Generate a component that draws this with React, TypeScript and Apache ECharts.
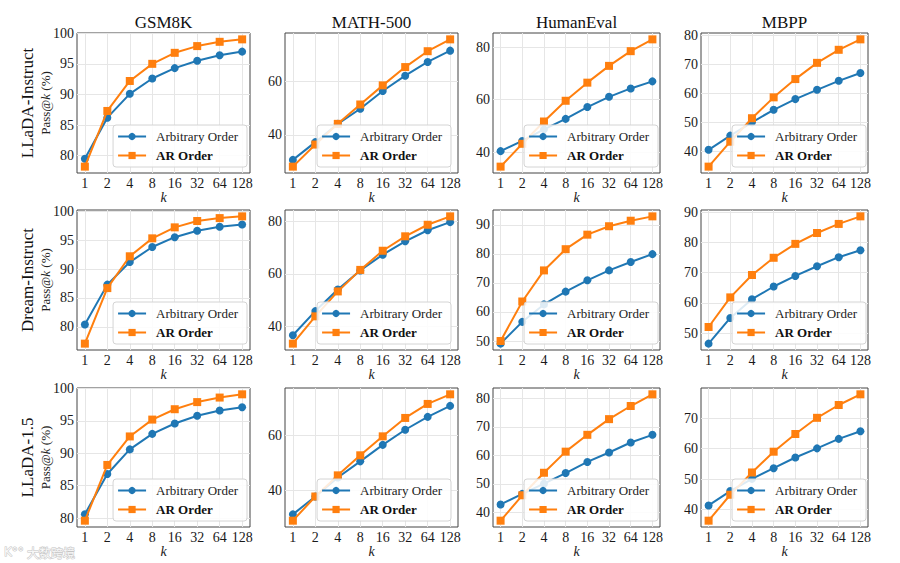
import React, { useEffect, useRef } from "react";
import * as echarts from "echarts";

const K_LABELS = ["1", "2", "4", "8", "16", "32", "64", "128"];
const BENCHMARKS = ["GSM8K", "MATH-500", "HumanEval", "MBPP"];
const MODELS = ["LLaDA-Instruct", "Dream-Instruct", "LLaDA-1.5"];
const SERIES_NAMES = ["Arbitrary Order", "AR Order"];

// LLaDA-Instruct
const lladaGsm8kArb = [79.5, 86.2, 90.1, 92.6, 94.3, 95.5, 96.4, 97.0];
const lladaGsm8kAr = [78.2, 87.3, 92.2, 95.0, 96.8, 97.9, 98.6, 99.0];
const lladaMathArb = [30.7, 37.3, 44.1, 49.7, 56.3, 62.0, 67.1, 71.3];
const lladaMathAr = [28.2, 36.4, 44.1, 51.3, 58.4, 65.2, 71.1, 75.5];
const lladaHeArb = [40.4, 44.3, 48.7, 52.7, 57.2, 61.1, 64.3, 67.0];
const lladaHeAr = [34.5, 43.2, 51.7, 59.6, 66.5, 72.9, 78.5, 83.0];
const lladaMbppArb = [40.5, 45.4, 50.0, 54.3, 58.0, 61.2, 64.3, 67.0];
const lladaMbppAr = [34.7, 43.3, 51.4, 58.6, 64.9, 70.5, 75.0, 78.6];
// Dream-Instruct
const dreamGsm8kArb = [80.4, 87.3, 91.2, 93.8, 95.5, 96.6, 97.3, 97.7];
const dreamGsm8kAr = [77.1, 86.7, 92.2, 95.3, 97.2, 98.3, 98.8, 99.1];
const dreamMathArb = [36.6, 45.8, 54.0, 61.3, 67.3, 72.4, 76.6, 79.7];
const dreamMathAr = [33.4, 43.8, 53.3, 61.5, 68.8, 74.3, 78.7, 81.9];
const dreamHeArb = [49.1, 56.6, 62.6, 67.0, 70.9, 74.3, 77.2, 79.9];
const dreamHeAr = [50.0, 63.6, 74.3, 81.6, 86.6, 89.5, 91.4, 92.9];
const dreamMbppArb = [46.5, 55.0, 61.2, 65.4, 68.9, 72.1, 75.1, 77.4];
const dreamMbppAr = [52.0, 61.8, 69.2, 74.9, 79.5, 83.1, 86.1, 88.6];
// LLaDA-1.5
const l15Gsm8kArb = [80.6, 86.8, 90.6, 93.0, 94.6, 95.8, 96.6, 97.1];
const l15Gsm8kAr = [79.6, 88.2, 92.6, 95.2, 96.8, 97.9, 98.6, 99.1];
const l15MathArb = [31.2, 37.7, 44.6, 50.5, 56.5, 62.0, 66.7, 70.7];
const l15MathAr = [28.9, 37.7, 45.4, 52.7, 59.6, 66.3, 71.4, 74.9];
const l15HeArb = [42.8, 46.5, 50.1, 53.8, 57.7, 61.0, 64.5, 67.2];
const l15HeAr = [37.1, 46.0, 53.9, 61.3, 67.2, 72.7, 77.3, 81.4];
const l15MbppArb = [41.4, 46.1, 50.1, 53.6, 57.1, 60.1, 63.2, 65.7];
const l15MbppAr = [36.4, 44.9, 52.2, 59.0, 64.8, 70.1, 74.3, 77.8];

const Y_TICK_STEPS = [
  [5, 20, 20, 10],
  [5, 20, 10, 10],
  [5, 20, 10, 10],
];

const PANELS = [
  [
    [lladaGsm8kArb, lladaGsm8kAr],
    [lladaMathArb, lladaMathAr],
    [lladaHeArb, lladaHeAr],
    [lladaMbppArb, lladaMbppAr],
  ],
  [
    [dreamGsm8kArb, dreamGsm8kAr],
    [dreamMathArb, dreamMathAr],
    [dreamHeArb, dreamHeAr],
    [dreamMbppArb, dreamMbppAr],
  ],
  [
    [l15Gsm8kArb, l15Gsm8kAr],
    [l15MathArb, l15MathAr],
    [l15HeArb, l15HeAr],
    [l15MbppArb, l15MbppAr],
  ],
];

// layout
const COL_LEFT = [77, 285, 493, 701];
const COL_RIGHT = [250, 458, 660, 868];
const ROW_TOP = [33, 210, 388];
const ROW_BOTTOM = [173, 350, 527];
const LEGEND_RIGHT_INSET = [3, 7, 2, 2];
const W = 900;
const H = 563;
const FONT = "Liberation Serif";
const BLUE = "#1f77b4";
const ORANGE = "#ff7f0e";

function ticksFor(min: number, max: number, step: number) {
  const out: number[] = [];
  for (let v = Math.ceil(min / step - 1e-9) * step; v <= max + 1e-9; v += step) out.push(v);
  return out;
}

function buildOption() {
  const grid: any[] = [];
  const xAxis: any[] = [];
  const yAxis: any[] = [];
  const series: any[] = [];
  const legend: any[] = [];
  const graphic: any[] = [];
  const xIdx = K_LABELS.map((_, i) => i);

  for (let r = 0; r < 3; r++) {
    for (let c = 0; c < 4; c++) {
      const idx = r * 4 + c;
      const [arb, ar] = PANELS[r][c];
      const all = [...arb, ...ar];
      const dmin = Math.min(...all);
      const dmax = Math.max(...all);
      const pad = (dmax - dmin) * 0.05;
      const ymin = dmin - pad;
      const ymax = dmax + pad;
      const yt = ticksFor(ymin, ymax, Y_TICK_STEPS[r][c]);

      grid.push({
        left: COL_LEFT[c],
        top: ROW_TOP[r],
        width: COL_RIGHT[c] - COL_LEFT[c],
        height: ROW_BOTTOM[r] - ROW_TOP[r],
        show: true,
        borderColor: "#444444",
        borderWidth: 1,
        backgroundColor: "#ffffff",
        containLabel: false,
        outerBoundsMode: "none",
      });
      xAxis.push({
        type: "value",
        gridIndex: idx,
        min: -0.35,
        max: 7.35,
        axisLine: { show: false },
        axisTick: { show: false, customValues: xIdx },
        axisLabel: {
          customValues: xIdx,
          formatter: (v: number) => K_LABELS[Math.round(v)],
          fontFamily: FONT,
          fontSize: 14,
          color: "#1a1a1a",
          margin: 3,
        },
        splitLine: { show: true, lineStyle: { color: "#e6e6e6", width: 1 } },
        name: "k",
        nameLocation: "middle",
        nameGap: 13,
        nameTextStyle: { fontFamily: FONT, fontSize: 14, fontStyle: "italic", color: "#1a1a1a" },
      });
      yAxis.push({
        type: "value",
        gridIndex: idx,
        min: ymin,
        max: ymax,
        axisLine: { show: false },
        axisTick: { show: false, customValues: yt },
        axisLabel: {
          customValues: yt,
          formatter: (v: number) => String(Math.round(v)),
          fontFamily: FONT,
          fontSize: 14,
          color: "#1a1a1a",
          margin: 3,
        },
        splitLine: { show: true, lineStyle: { color: "#e6e6e6", width: 1 } },
      });
      series.push({
        type: "line",
        name: SERIES_NAMES[0],
        xAxisIndex: idx,
        yAxisIndex: idx,
        data: arb.map((v, i) => [i, v]),
        symbol: "circle",
        symbolSize: 8,
        color: BLUE,
        lineStyle: { width: 2, color: BLUE },
        itemStyle: { color: BLUE },
        z: 2,
      });
      series.push({
        type: "line",
        name: SERIES_NAMES[1],
        xAxisIndex: idx,
        yAxisIndex: idx,
        data: ar.map((v, i) => [i, v]),
        symbol: "rect",
        symbolSize: 8,
        color: ORANGE,
        lineStyle: { width: 2, color: ORANGE },
        itemStyle: { color: ORANGE },
        z: 3,
      });
      legend.push({
        data: SERIES_NAMES,
        orient: "vertical",
        right: W - (COL_RIGHT[c] - LEGEND_RIGHT_INSET[c]),
        bottom: H - (ROW_BOTTOM[r] - 6),
        itemWidth: 28,
        itemHeight: 9,
        itemGap: 6,
        padding: [5, 9, 5, 4],
        borderColor: "#d4d4d4",
        borderWidth: 1,
        borderRadius: 3,
        backgroundColor: "rgba(255,255,255,0.85)",
        selectedMode: false,
        z: 10,
        formatter: (n: string) => (n === "AR Order" ? "{b|AR Order}" : "{n|" + n + "}"),
        textStyle: {
          fontFamily: FONT,
          fontSize: 13,
          color: "#222",
          rich: {
            n: { fontFamily: FONT, fontSize: 13, color: "#222", padding: [0, 0, 0, 5] },
            b: { fontFamily: FONT, fontSize: 13, color: "#111", fontWeight: "bold", padding: [0, 0, 0, 5] },
          },
        },
      });
    }
  }

  BENCHMARKS.forEach((b, c) => {
    graphic.push({
      type: "text",
      x: (COL_LEFT[c] + COL_RIGHT[c]) / 2,
      y: 22,
      style: {
        text: b,
        fontFamily: FONT,
        fontSize: 17,
        fill: "#111",
        align: "center",
        verticalAlign: "middle",
      },
    });
  });

  MODELS.forEach((m, r) => {
    const cy = (ROW_TOP[r] + ROW_BOTTOM[r]) / 2;
    graphic.push({
      type: "text",
      x: 27,
      y: cy,
      rotation: Math.PI / 2,
      style: {
        text: m,
        fontFamily: FONT,
        fontSize: 17,
        fill: "#111",
        align: "center",
        verticalAlign: "middle",
      },
    });
    graphic.push({
      type: "text",
      x: 45,
      y: cy,
      rotation: Math.PI / 2,
      style: {
        text: "{n|Pass@}{i|k}{n| (%)}",
        fontFamily: FONT,
        fontSize: 13,
        fill: "#222",
        align: "center",
        verticalAlign: "middle",
        rich: {
          n: { fontFamily: FONT, fontSize: 13, fill: "#222" },
          i: { fontFamily: FONT, fontSize: 13, fontStyle: "italic", fill: "#222" },
        },
      },
    });
  });

  // watermark
  graphic.push({
    type: "text",
    x: 27,
    y: 552,
    z: 100,
    style: {
      text: "大数跨境",
      fontFamily: "Noto Sans CJK SC",
      fontSize: 12,
      fill: "rgba(255,255,255,0.9)",
      stroke: "#c4c4c4",
      lineWidth: 1,
      align: "left",
      verticalAlign: "middle",
    },
  });
  graphic.push({
    type: "text",
    x: 4,
    y: 552,
    z: 100,
    style: {
      text: "K°°",
      fontFamily: "DejaVu Sans",
      fontSize: 12,
      fill: "rgba(255,255,255,0.9)",
      stroke: "#c4c4c4",
      lineWidth: 1,
      align: "left",
      verticalAlign: "middle",
    },
  });

  return {
    animation: false,
    backgroundColor: "#ffffff",
    textStyle: { fontFamily: FONT },
    grid,
    xAxis,
    yAxis,
    series,
    legend,
    graphic,
  };
}

export default function App() {
  const ref = useRef<HTMLDivElement>(null);
  useEffect(() => {
    if (!ref.current) return;
    const chart = echarts.init(ref.current, undefined, { renderer: "svg", width: W, height: H });
    chart.setOption(buildOption() as any);
    return () => chart.dispose();
  }, []);
  return (
    <div
      ref={ref}
      style={{ position: "absolute", left: 0, top: 0, width: W, height: H, background: "#fff" }}
    />
  );
}
